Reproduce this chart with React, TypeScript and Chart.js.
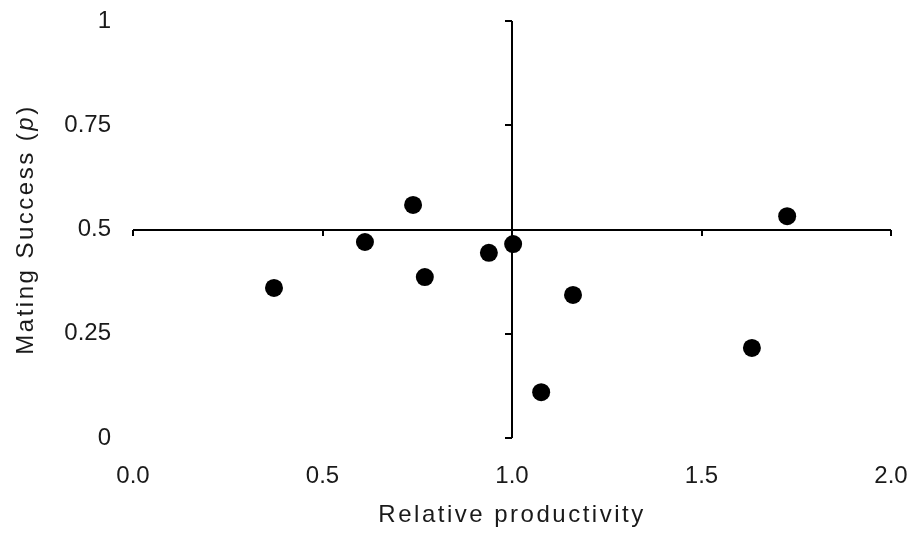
import { useEffect, useRef } from 'react';
import { Chart, registerables } from 'chart.js';

Chart.register(...registerables);

const productivity = [0.372, 0.612, 0.739, 0.770, 0.939, 1.003, 1.077, 1.161, 1.633, 1.726];
const matingSuccess = [0.360, 0.470, 0.559, 0.386, 0.444, 0.465, 0.110, 0.343, 0.216, 0.532];

const xTicks = [0, 0.5, 1, 1.5, 2];
const yTicks = [0, 0.25, 0.5, 0.75, 1];
const xTickLabels = ['0.0', '0.5', '1.0', '1.5', '2.0'];
const yTickLabels = ['0', '0.25', '0.5', '0.75', '1'];
const xTitle = 'Relative productivity';
const yTitleParts = ['Mating Success (', 'p', ')'];

const crossX = 1;
const crossY = 0.5;

const FONT = "'Liberation Sans', Arial, sans-serif";
const TEXT = '#1a1a1a';

const crossPlugin = {
  id: 'crossAxes',
  beforeDatasetsDraw(chart: any) {
    const { ctx, scales } = chart;
    const xs = scales.x;
    const ys = scales.y;
    const px = Math.round(xs.getPixelForValue(crossX));
    const py = Math.round(ys.getPixelForValue(crossY));
    ctx.save();
    ctx.strokeStyle = '#000';
    ctx.lineWidth = 2;
    ctx.beginPath();
    ctx.moveTo(px, ys.getPixelForValue(yTicks[0]));
    ctx.lineTo(px, ys.getPixelForValue(yTicks[yTicks.length - 1]));
    ctx.moveTo(xs.getPixelForValue(xTicks[0]), py);
    ctx.lineTo(xs.getPixelForValue(xTicks[xTicks.length - 1]), py);
    yTicks.forEach((v) => {
      const y = Math.round(ys.getPixelForValue(v));
      ctx.moveTo(px - 7, y);
      ctx.lineTo(px, y);
    });
    xTicks.forEach((v) => {
      const x = Math.round(xs.getPixelForValue(v));
      ctx.moveTo(x, py);
      ctx.lineTo(x, py + 6);
    });
    ctx.stroke();
    ctx.restore();
  },
  afterDraw(chart: any) {
    const { ctx, chartArea } = chart;
    ctx.save();
    ctx.fillStyle = TEXT;
    (ctx as any).letterSpacing = '2.5px';
    ctx.font = `24px ${FONT}`;
    ctx.textAlign = 'center';
    ctx.textBaseline = 'alphabetic';
    ctx.fillText(xTitle, (chartArea.left + chartArea.right) / 2, 522);
    ctx.translate(33, (chartArea.top + chartArea.bottom) / 2);
    ctx.rotate(-Math.PI / 2);
    ctx.textAlign = 'left';
    const fonts = [`24px ${FONT}`, `italic 24px ${FONT}`, `24px ${FONT}`];
    let total = 0;
    const widths = yTitleParts.map((t, i) => {
      ctx.font = fonts[i];
      const w = ctx.measureText(t).width;
      total += w;
      return w;
    });
    let x = -total / 2;
    yTitleParts.forEach((t, i) => {
      ctx.font = fonts[i];
      ctx.fillText(t, x, 0);
      x += widths[i];
    });
    ctx.restore();
  },
};

const bgPlugin = {
  id: 'bg',
  beforeDraw(chart: any) {
    const { ctx, width, height } = chart;
    ctx.save();
    ctx.fillStyle = '#fff';
    ctx.fillRect(0, 0, width, height);
    ctx.restore();
  },
};

export default function App() {
  const ref = useRef<HTMLCanvasElement | null>(null);

  useEffect(() => {
    if (!ref.current) return;
    const chart = new Chart(ref.current, {
      type: 'scatter',
      data: {
        datasets: [
          {
            label: 'Mating success',
            data: productivity.map((x, i) => ({ x, y: matingSuccess[i] })),
            backgroundColor: '#000',
            borderColor: '#000',
            pointRadius: 9,
            pointHoverRadius: 9,
            borderWidth: 0,
          },
        ],
      },
      options: {
        responsive: false,
        animation: false,
        events: [],
        layout: { padding: { left: 0, right: 20, top: 21, bottom: 0 } },
        plugins: {
          legend: { display: false },
          tooltip: { enabled: false },
        },
        scales: {
          x: {
            type: 'linear',
            min: xTicks[0],
            max: xTicks[xTicks.length - 1],
            grid: { display: false, drawTicks: false, tickLength: 0 },
            border: { display: false },
            afterBuildTicks: (s: any) => {
              s.ticks = xTicks.map((v) => ({ value: v }));
            },
            afterFit: (s: any) => {
              s.height = 99;
              s.paddingLeft = 0;
              s.paddingRight = 0;
              s.paddingTop = 0;
              s.paddingBottom = 0;
            },
            ticks: {
              padding: 24,
              color: TEXT,
              font: { family: FONT, size: 24 },
              maxRotation: 0,
              autoSkip: false,
              callback: (_v: any, i: number) => xTickLabels[i],
            },
          },
          y: {
            type: 'linear',
            min: yTicks[0],
            max: yTicks[yTicks.length - 1],
            grid: { display: false, drawTicks: false, tickLength: 0 },
            border: { display: false },
            afterBuildTicks: (s: any) => {
              s.ticks = yTicks.map((v) => ({ value: v }));
            },
            afterFit: (s: any) => {
              s.width = 133;
              s.paddingLeft = 0;
              s.paddingRight = 0;
              s.paddingTop = 0;
              s.paddingBottom = 0;
            },
            ticks: {
              padding: 22,
              color: TEXT,
              font: { family: FONT, size: 24 },
              autoSkip: false,
              callback: (_v: any, i: number) => yTickLabels[i],
            },
          },
        },
      },
      plugins: [bgPlugin, crossPlugin],
    });
    return () => chart.destroy();
  }, []);

  return (
    <div style={{ position: 'absolute', left: 0, top: 0, width: 911, height: 537, background: '#fff' }}>
      <canvas ref={ref} width={911} height={537} style={{ display: 'block' }} />
    </div>
  );
}
